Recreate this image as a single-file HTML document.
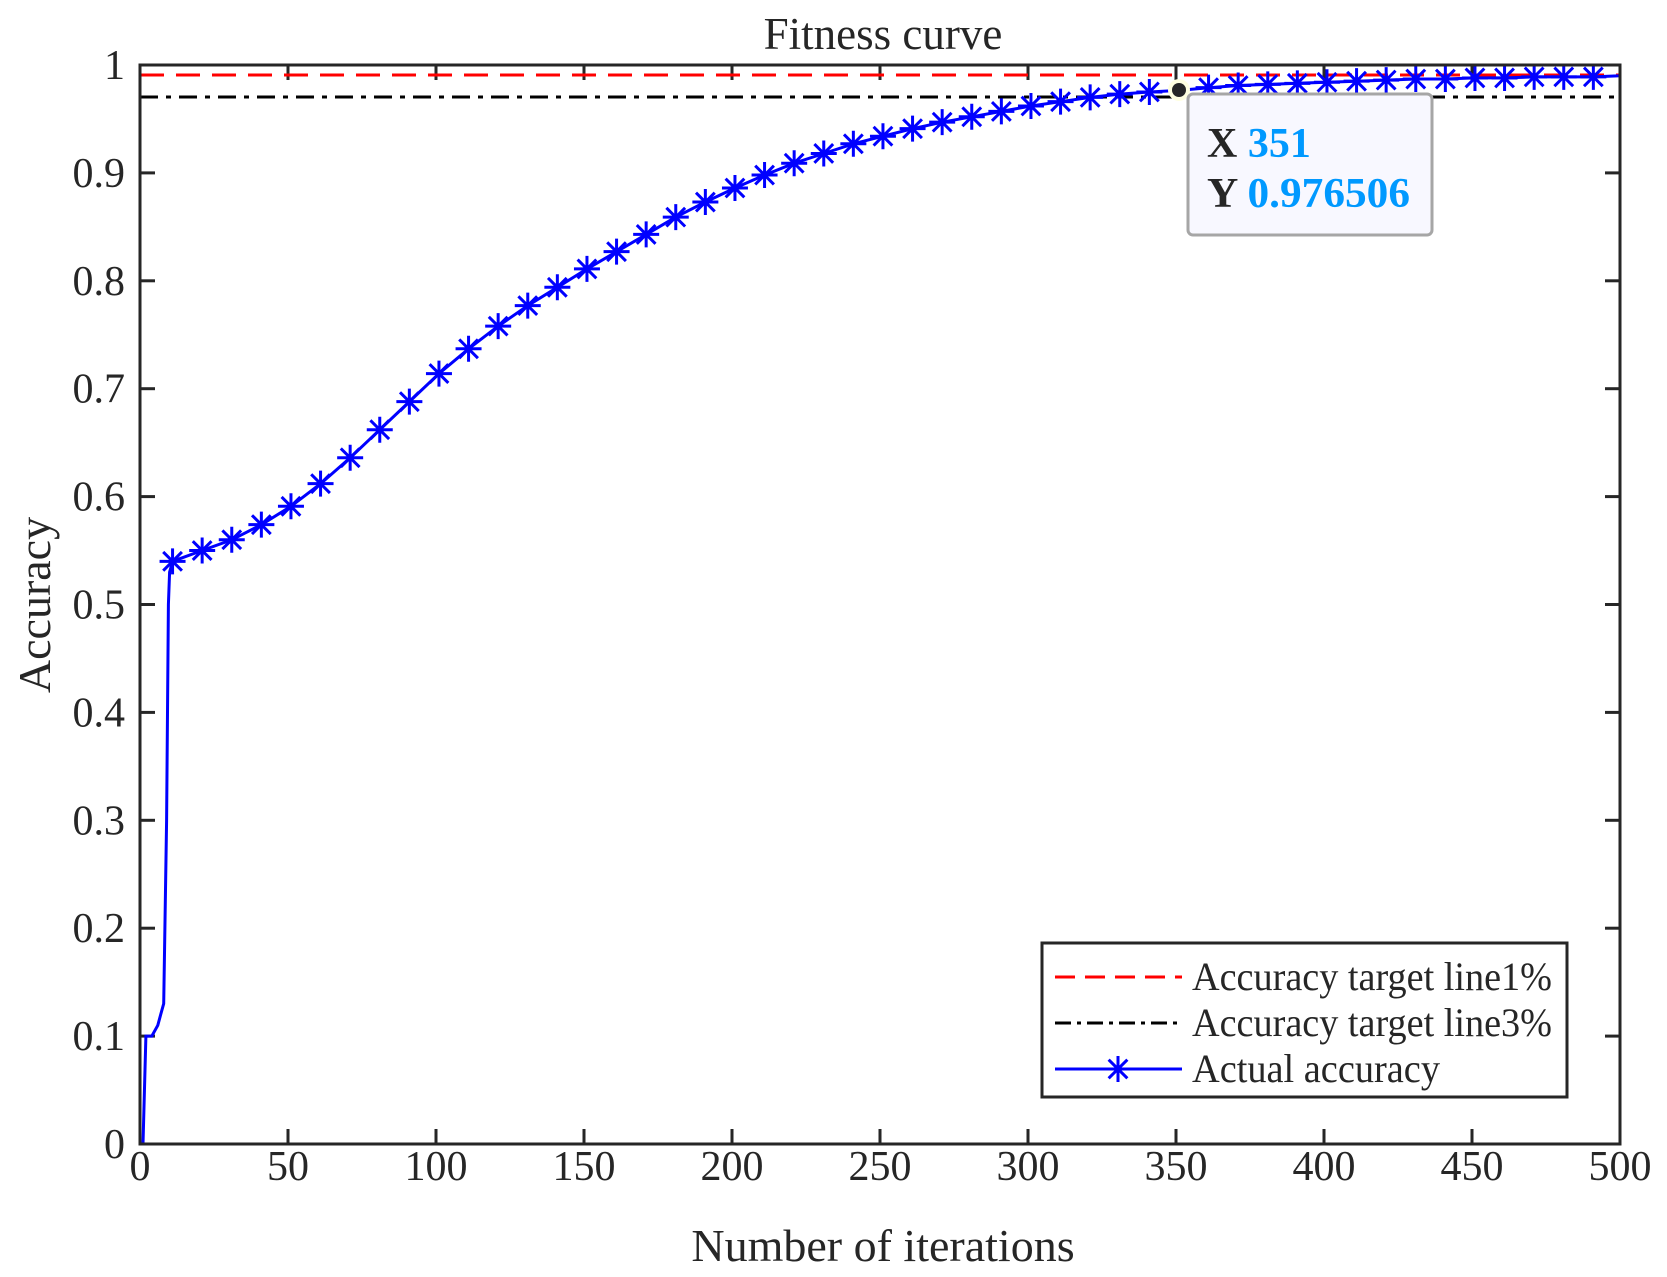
<!DOCTYPE html>
<html><head><meta charset="utf-8"><style>
html,body{margin:0;padding:0;background:#fff}
svg{display:block}
text{font-family:"Liberation Serif",serif;fill:#262626}
</style></head><body>
<svg id="s" width="1667" height="1277" viewBox="0 0 1667 1277" xmlns="http://www.w3.org/2000/svg">
<text x="883" y="49" font-size="45" text-anchor="middle">Fitness curve</text>
<text x="883" y="1261" font-size="46" text-anchor="middle">Number of iterations</text>
<text transform="translate(50,605) rotate(-90)" font-size="46" text-anchor="middle">Accuracy</text>
<g id="ticks"></g>
<line x1="140" y1="75" x2="1620" y2="75" stroke="#ff0000" stroke-width="3" stroke-dasharray="24,12"/>
<line x1="140" y1="97" x2="1620" y2="97" stroke="#000" stroke-width="3" stroke-dasharray="18,8,5,8"/>
<g id="curve"></g>
<rect x="140" y="65" width="1480" height="1079" fill="none" stroke="#262626" stroke-width="3"/>
<circle cx="1179" cy="90" r="11" fill="#ffffe0"/>
<circle cx="1179" cy="90" r="7" fill="#262626"/>
<rect x="1188" y="94" width="244" height="141" rx="5" fill="#f8f8ff" stroke="#a6a6a6" stroke-width="3"/>
<text x="1207" y="157" font-size="42" font-weight="bold" fill="#404040">X <tspan fill="#0099ff">351</tspan></text>
<text x="1207" y="207" font-size="42" font-weight="bold" fill="#404040" textLength="203" lengthAdjust="spacingAndGlyphs">Y <tspan fill="#0099ff">0.976506</tspan></text>
<rect x="1042" y="943" width="525" height="154" fill="#fff" stroke="#262626" stroke-width="3"/>
<line x1="1055" y1="977" x2="1182" y2="977" stroke="#ff0000" stroke-width="3" stroke-dasharray="20,10"/>
<line x1="1055" y1="1023" x2="1182" y2="1023" stroke="#000" stroke-width="3" stroke-dasharray="16,6,4,6"/>
<line x1="1055" y1="1069" x2="1182" y2="1069" stroke="#0000ff" stroke-width="3"/>
<g id="lm"></g>
<text x="1192" y="990" font-size="40" textLength="360" lengthAdjust="spacingAndGlyphs">Accuracy target line1%</text>
<text x="1192" y="1036" font-size="40" textLength="360" lengthAdjust="spacingAndGlyphs">Accuracy target line3%</text>
<text x="1192" y="1082" font-size="40" textLength="248" lengthAdjust="spacingAndGlyphs">Actual accuracy</text>
</svg>
<script>
var NS="http://www.w3.org/2000/svg";
function X(v){return 140+v*2.96}
function Y(a){return 1144-a*1079}
function el(p,t,a,txt){var e=document.createElementNS(NS,t);for(var k in a)e.setAttribute(k,a[k]);if(txt!=null)e.textContent=txt;p.appendChild(e);return e}
var tk=document.getElementById('ticks');
for(var i=0;i<=10;i++){var v=i*50,x=X(v);
 el(tk,'line',{x1:x,y1:1144,x2:x,y2:1129,stroke:'#262626','stroke-width':3});
 el(tk,'line',{x1:x,y1:65,x2:x,y2:80,stroke:'#262626','stroke-width':3});
 el(tk,'text',{x:x,y:1180,'font-size':42,'text-anchor':'middle'},String(v));}
for(var i=0;i<=10;i++){var a=i/10,y=Y(a);
 el(tk,'line',{x1:140,y1:y,x2:155,y2:y,stroke:'#262626','stroke-width':3});
 el(tk,'line',{x1:1620,y1:y,x2:1605,y2:y,stroke:'#262626','stroke-width':3});
 el(tk,'text',{x:125,y:y+14,'font-size':42,'text-anchor':'end'},i==10?'1':(i==0?'0':a.toFixed(1)));}
var m=[[11,.540],[21,.550],[31,.560],[41,.574],[51,.591],[61,.612],[71,.636],[81,.662],[91,.688],[101,.714],[111,.737],[121,.758],[131,.777],[141,.794],[151,.811],[161,.827],[171,.843],[181,.859],[191,.873],[201,.886],[211,.898],[221,.909],[231,.918],[241,.927],[251,.934],[261,.941],[271,.947],[281,.952],[291,.957],[301,.962],[311,.966],[321,.970],[331,.973],[341,.975],[351,.9765],[361,.979],[371,.981],[381,.982],[391,.983],[401,.984],[411,.985],[421,.986],[431,.987],[441,.987],[451,.988],[461,.988],[471,.989],[481,.989],[491,.989],[500,.990]];
var pts=[[1,0],[2,.1],[4,.1],[6,.11],[7,.12],[8,.13],[9,.3],[9.6,.5],[10,.53]].concat(m);
var d=pts.map(function(p,i){return (i?'L':'M')+X(p[0]).toFixed(1)+' '+Y(p[1]).toFixed(1)}).join(' ');
var cv=document.getElementById('curve');
el(cv,'path',{d:d,fill:'none',stroke:'#0000ff','stroke-width':3});
function star(g,cx,cy){var r=13,q=r*0.72;
 el(g,'path',{d:'M'+(cx-r)+' '+cy+'H'+(cx+r)+'M'+cx+' '+(cy-r)+'V'+(cy+r)+'M'+(cx-q)+' '+(cy-q)+'L'+(cx+q)+' '+(cy+q)+'M'+(cx-q)+' '+(cy+q)+'L'+(cx+q)+' '+(cy-q),stroke:'#0000ff','stroke-width':3,fill:'none'});}
m.forEach(function(p){if(p[0]!=351&&p[0]!=500)star(cv,X(p[0]),Y(p[1]))});
star(document.getElementById('lm'),1118,1069);
</script>
</body></html>
